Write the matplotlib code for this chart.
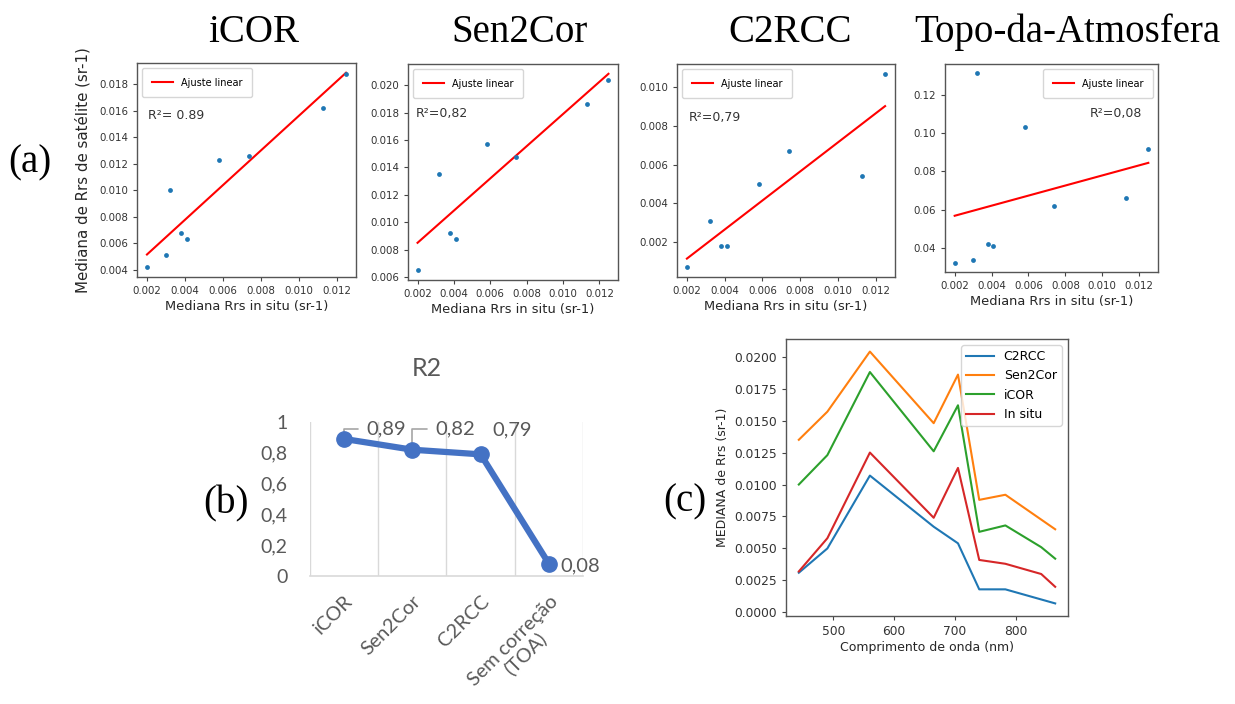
import numpy as np
import matplotlib
matplotlib.use("Agg")
import matplotlib.pyplot as plt

# Sentinel-2 band centres (nm) and median Rrs (sr-1)
bands = [443, 490, 560, 665, 705, 740, 783, 842, 865]
insitu = [0.0032, 0.0058, 0.0125, 0.0074, 0.0113, 0.0041, 0.0038, 0.0030, 0.0020]
icor = [0.0100, 0.0123, 0.0188, 0.0126, 0.0162, 0.0063, 0.0068, 0.0051, 0.0042]
toa = [0.1310, 0.1031, 0.0918, 0.0619, 0.0659, 0.0410, 0.0421, 0.0336, 0.0325]

# Sen2Cor and C2RCC have no 842 nm value
bands_sub = [443, 490, 560, 665, 705, 740, 783, 865]
sen2cor = [0.0135, 0.0157, 0.0204, 0.0148, 0.0186, 0.0088, 0.0092, 0.0065]
c2rcc = [0.0031, 0.0050, 0.0107, 0.0067, 0.0054, 0.0018, 0.0018, 0.0007]
insitu_sub = [insitu[bands.index(b)] for b in bands_sub]

# Linear fits and R2 of each processor
methods = ["iCOR", "Sen2Cor", "C2RCC", "Topo-da-Atmosfera"]
fit_slope = [1.307, 1.175, 0.750, 2.625]
fit_intercept = [0.00255, 0.00615, -0.00035, 0.05162]
r2_values = [0.89, 0.82, 0.79, 0.08]
r2_categories = ["iCOR", "Sen2Cor", "C2RCC", "Sem correção\n(TOA)"]

xticks_a = [0.002, 0.004, 0.006, 0.008, 0.010, 0.012]
yticks_a = [
    [0.004, 0.006, 0.008, 0.010, 0.012, 0.014, 0.016, 0.018],
    [0.006, 0.008, 0.010, 0.012, 0.014, 0.016, 0.018, 0.020],
    [0.002, 0.004, 0.006, 0.008, 0.010],
    [0.04, 0.06, 0.08, 0.10, 0.12],
]
xticks_c = [500, 600, 700, 800]
yticks_c = [0.0, 0.0025, 0.0050, 0.0075, 0.0100, 0.0125, 0.0150, 0.0175, 0.0200]
yticks_b = [0, 0.2, 0.4, 0.6, 0.8, 1.0]

W, H = 1235, 704
fig = plt.figure(figsize=(W / 100, H / 100), dpi=100)
fig.patch.set_facecolor("white")


def rect(x0, y0, x1, y1):
    return [x0 / W, 1 - y1 / H, (x1 - x0) / W, (y1 - y0) / H]


SERIF = "Liberation Serif"
TXT = "#262626"

# ---------------- (a) scatter plots ----------------
scatter_x = [insitu, insitu_sub, insitu_sub, insitu]
scatter_y = [icor, sen2cor, c2rcc, toa]
rects_a = [rect(137, 63, 356, 277), rect(408, 64, 618, 280),
           rect(677, 64, 895, 277), rect(945, 64, 1158, 272)]
title_x = [254, 520, 790, 1067]
r2_fmt = ["R²= {:.2f}", "R²={:.2f}", "R²={:.2f}", "R²={:.2f}"]
r2_sep = [".", ",", ",", ","]
r2_pos = [(0.05, 0.757, "left"), (0.038, 0.773, "left"),
          (0.055, 0.751, "left"), (0.925, 0.764, "right")]
leg_loc = ["upper left", "upper left", "upper left", "upper right"]

for i in range(4):
    ax = fig.add_axes(rects_a[i])
    x = np.array(scatter_x[i])
    y = np.array(scatter_y[i])
    xs = np.array([x.min(), x.max()])
    ax.plot(xs, fit_slope[i] * xs + fit_intercept[i], color="red", lw=1.5,
            label="Ajuste linear", zorder=2)
    ax.scatter(x, y, s=12, color="#1f77b4", zorder=3, linewidths=0)
    ax.set_xticks(xticks_a)
    ax.set_yticks(yticks_a[i])
    ax.tick_params(labelsize=7.4, labelcolor="#333333", color="#444444",
                   length=3, width=0.8)
    for s in ax.spines.values():
        s.set_color("#555555")
        s.set_linewidth(1.0)
    ax.set_xlabel("Mediana Rrs in situ (sr-1)", fontsize=9.4, color=TXT,
                  labelpad=3)
    if i == 0:
        ax.set_ylabel("Mediana de Rrs de satélite (sr-1)", fontsize=10.8,
                      color=TXT, labelpad=6)
    ax.legend(loc=leg_loc[i], fontsize=7, handlelength=2.2, borderpad=1.0)
    px, py, ha = r2_pos[i]
    ax.text(px, py, r2_fmt[i].format(r2_values[i]).replace(".", r2_sep[i]),
            transform=ax.transAxes, ha=ha, va="center", fontsize=9, color="#333333")
    fig.text(title_x[i] / W, 1 - 42 / H, methods[i], family=SERIF, fontsize=28,
             ha="center", va="baseline", color="black")

fig.text(30 / W, 1 - 163 / H, "(a)", family=SERIF, fontsize=28, ha="center",
         va="center")

# ---------------- (b) R2 line chart ----------------
GRAY = "#595959"
axb = fig.add_axes(rect(310, 422, 583, 576))
xpos = np.arange(len(r2_values))
axb.plot(xpos, r2_values, color="#4472C4", lw=4.5, marker="o", ms=11,
         clip_on=False, zorder=4, solid_joinstyle="round")
axb.set_xlim(-0.5, len(r2_values) - 0.5)
axb.set_ylim(0, 1)
axb.set_xticks(np.arange(len(r2_values) + 1) - 0.5, minor=True)
axb.grid(which="minor", axis="x", color="#D9D9D9", lw=1)
axb.set_xticks(xpos)
axb.set_xticklabels(r2_categories, rotation=45, ha="right", va="top",
                    rotation_mode="anchor", multialignment="center",
                    family="Lato", fontsize=14.3, color=GRAY, linespacing=1.0)
axb.set_yticks(yticks_b)
axb.set_yticklabels([f"{v:g}".replace(".", ",") for v in yticks_b],
                    family="Lato", fontsize=14, color=GRAY)
axb.tick_params(which="both", length=0)
axb.tick_params(axis="y", pad=16)
axb.tick_params(axis="x", pad=12)
for side in ["left", "top", "right"]:
    axb.spines[side].set_visible(False)
axb.spines["bottom"].set_color("#D9D9D9")
axb.spines["bottom"].set_linewidth(1.2)

label_offsets = [(16, 7), (16.5, 15), (8.6, 17.5), (8, -1.5)]
leaders = [True, True, False, False]
for i, v in enumerate(r2_values):
    dx, dy = label_offsets[i]
    axb.annotate(f"{v:.2f}".replace(".", ","), xy=(i, v), xytext=(dx, dy),
                 textcoords="offset points", ha="left", va="center",
                 family="Lato", fontsize=14.5, color=GRAY, zorder=5,
                 annotation_clip=False)
    if leaders[i]:
        axb.annotate("", xy=(i, v), xytext=(dx - 6, dy),
                     textcoords="offset points", annotation_clip=False,
                     arrowprops=dict(arrowstyle="-", color="#A6A6A6", lw=1.2,
                                     connectionstyle="angle,angleA=0,angleB=90,rad=0",
                                     shrinkA=0, shrinkB=4))

fig.text(427 / W, 1 - 369 / H, "R2", family="Lato", fontsize=18, color=GRAY,
         ha="center", va="center")
fig.text(226 / W, 1 - 504 / H, "(b)", family=SERIF, fontsize=28, ha="center",
         va="center")

# ---------------- (c) spectra ----------------
axc = fig.add_axes(rect(786, 339, 1068, 616))
axc.plot(bands_sub, c2rcc, color="#1f77b4", lw=1.5, label="C2RCC")
axc.plot(bands_sub, sen2cor, color="#ff7f0e", lw=1.5, label="Sen2Cor")
axc.plot(bands, icor, color="#2ca02c", lw=1.5, label="iCOR")
axc.plot(bands, insitu, color="#d62728", lw=1.5, label="In situ")
axc.set_xticks(xticks_c)
axc.set_yticks(yticks_c)
axc.tick_params(labelsize=8.8, labelcolor="#333333", color="#444444",
                length=3, width=0.8)
for s in axc.spines.values():
    s.set_color("#555555")
    s.set_linewidth(1.0)
axc.set_xlabel("Comprimento de onda (nm)", fontsize=9, color=TXT, labelpad=2)
axc.set_ylabel("MEDIANA de Rrs (sr-1)", fontsize=9, color=TXT)
axc.legend(loc="upper right", fontsize=9, handlelength=2.2)

fig.text(685 / W, 1 - 502 / H, "(c)", family=SERIF, fontsize=28, ha="center",
         va="center")

fig.savefig("out.png", dpi=100, facecolor="white")
